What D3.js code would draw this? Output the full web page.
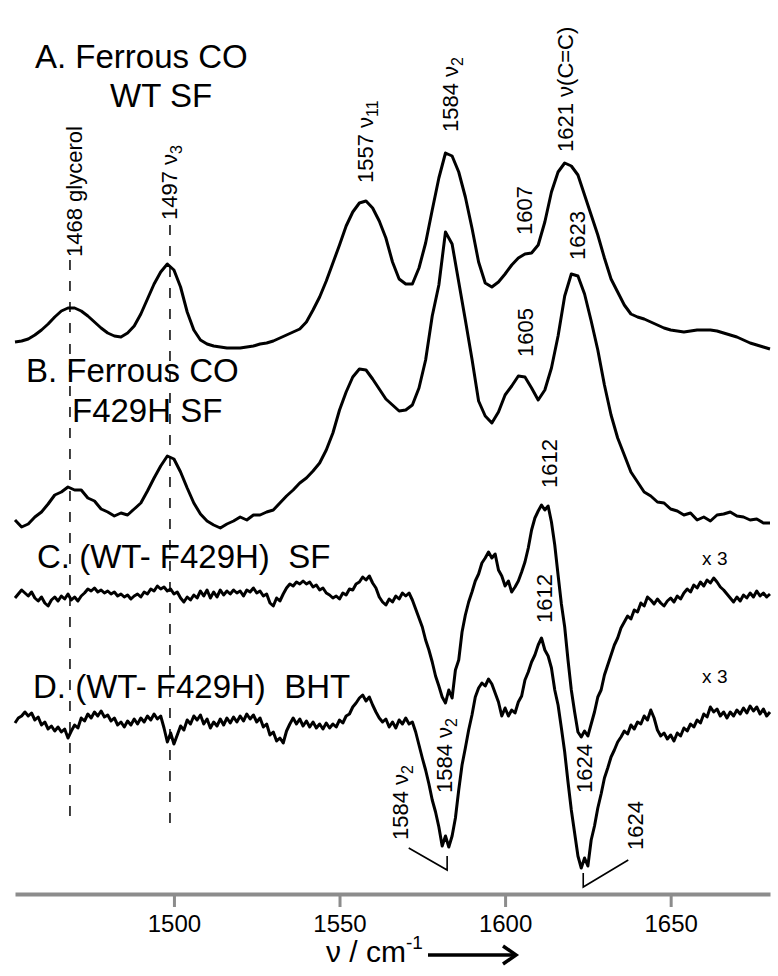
<!DOCTYPE html>
<html>
<head>
<meta charset="utf-8">
<script src="https://cdn.jsdelivr.net/npm/d3@7"></script>
<style>
  body { margin: 0; background: #fff; }
  svg { font-family: "Liberation Sans", Arial, sans-serif; }
  .title { font-size: 33px; fill: #000; white-space: pre; }
  .peak { font-size: 22px; fill: #000; }
</style>
</head>
<body>
<svg width="778" height="976"></svg>
<script>
// wavenumber grids (cm-1)
var waveCoarse = [
  1452,1454,1456,1458,1460,1462,1464,1466,1468,1470,
  1472,1474,1476,1478,1480,1482,1484,1486,1488,1490,
  1492,1494,1496,1498,1500,1502,1504,1506,1508,1510,
  1512,1514,1516,1518,1520,1522,1524,1526,1528,1530,
  1532,1534,1536,1538,1540,1542,1544,1546,1548,1550,
  1552,1554,1556,1558,1560,1562,1564,1566,1568,1570,
  1572,1574,1576,1578,1580,1582,1584,1586,1588,1590,
  1592,1594,1596,1598,1600,1602,1604,1606,1608,1610,
  1612,1614,1616,1618,1620,1622,1624,1626,1628,1630,
  1632,1634,1636,1638,1640,1642,1644,1646,1648,1650,
  1652,1654,1656,1658,1660,1662,1664,1666,1668,1670,
  1672,1674,1676,1678,1680];

var waveFine = [
  1452,1453,1454,1455,1456,1457,1458,1459,1460,1461,
  1462,1463,1464,1465,1466,1467,1468,1469,1470,1471,
  1472,1473,1474,1475,1476,1477,1478,1479,1480,1481,
  1482,1483,1484,1485,1486,1487,1488,1489,1490,1491,
  1492,1493,1494,1495,1496,1497,1498,1499,1500,1501,
  1502,1503,1504,1505,1506,1507,1508,1509,1510,1511,
  1512,1513,1514,1515,1516,1517,1518,1519,1520,1521,
  1522,1523,1524,1525,1526,1527,1528,1529,1530,1531,
  1532,1533,1534,1535,1536,1537,1538,1539,1540,1541,
  1542,1543,1544,1545,1546,1547,1548,1549,1550,1551,
  1552,1553,1554,1555,1556,1557,1558,1559,1560,1561,
  1562,1563,1564,1565,1566,1567,1568,1569,1570,1571,
  1572,1573,1574,1575,1576,1577,1578,1579,1580,1581,
  1582,1583,1584,1585,1586,1587,1588,1589,1590,1591,
  1592,1593,1594,1595,1596,1597,1598,1599,1600,1601,
  1602,1603,1604,1605,1606,1607,1608,1609,1610,1611,
  1612,1613,1614,1615,1616,1617,1618,1619,1620,1621,
  1622,1623,1624,1625,1626,1627,1628,1629,1630,1631,
  1632,1633,1634,1635,1636,1637,1638,1639,1640,1641,
  1642,1643,1644,1645,1646,1647,1648,1649,1650,1651,
  1652,1653,1654,1655,1656,1657,1658,1659,1660,1661,
  1662,1663,1664,1665,1666,1667,1668,1669,1670,1671,
  1672,1673,1674,1675,1676,1677,1678,1679,1680];

// intensities, arbitrary units with stacking offsets already included
// A. Ferrous CO WT SF (coarse grid)
var traceA = [
  558,559,561,565,570,576,583,589,592,592,
  589,584,578,572,567,564,563,567,574,586,
  601,616,628,636,630,613,588,570,560,556,
  554,553,552,552,552,553,554,556,557,559,
  562,565,568,571,578,590,603,619,637,655,
  674,688,697,699,692,679,662,638,621,616,
  616,632,657,690,722,747,744,728,703,672,
  638,617,613,618,626,635,642,646,647,655,
  678,708,728,737,734,725,705,685,665,642,
  621,608,595,586,583,581,578,575,572,570,
  569,568,569,570,570,570,569,567,565,563,
  560,557,555,553,551];

// B. Ferrous CO F429H SF (coarse grid)
var traceB = [
  380,373,376,383,388,396,405,408,413,410,
  410,402,399,391,388,384,387,385,391,397,
  409,422,434,444,441,428,412,397,386,379,
  375,372,376,379,383,380,385,385,388,390,
  397,404,410,417,422,429,437,450,467,490,
  508,523,531,530,521,511,501,495,489,490,
  495,512,540,584,615,668,656,618,580,541,
  499,484,477,488,505,514,524,523,512,500,
  510,532,564,604,626,624,606,579,550,515,
  485,462,445,428,418,408,404,398,397,391,
  389,385,387,380,383,379,385,386,388,384,
  383,380,381,377,377];

// C. (WT- F429H) SF, x3 (fine grid)
var traceC = [
  302,306,310,307,304,308,302,299,303,297,
  294,300,303,299,304,301,306,300,303,299,
  304,307,311,309,312,308,310,307,309,306,
  308,304,306,303,305,301,304,306,303,308,
  306,311,309,314,311,313,309,311,306,308,
  302,298,303,300,305,302,309,304,310,302,
  308,303,310,305,309,306,310,307,309,304,
  310,308,312,307,309,304,306,297,294,302,
  299,306,312,316,314,318,316,319,316,318,
  313,315,310,312,307,305,302,304,301,307,
  305,311,310,316,318,323,320,324,317,312,
  303,298,295,301,298,304,301,307,304,307,
  300,291,282,273,260,250,238,224,214,203,
  197,210,202,230,240,268,285,298,308,319,
  326,337,342,348,342,346,330,324,314,319,
  308,313,319,328,338,352,370,382,389,395,
  390,394,378,355,325,296,273,240,210,188,
  168,163,169,164,176,188,203,210,225,235,
  245,255,262,272,278,284,281,290,288,297,
  294,303,300,296,301,297,294,299,302,298,
  304,301,307,311,308,315,312,318,314,320,
  317,322,318,313,310,306,302,298,303,299,
  305,302,307,303,309,304,307,303,306];

// D. (WT- F429H) BHT, x3 (fine grid)
var traceD = [
  177,182,184,188,184,187,180,183,175,178,
  171,174,169,173,168,171,162,169,175,172,
  182,179,186,182,188,184,189,183,185,179,
  182,175,178,173,179,175,181,176,182,178,
  184,180,186,181,184,172,158,167,156,165,
  174,170,180,176,184,180,185,176,181,172,
  178,174,181,175,182,177,183,178,184,179,
  186,181,185,178,182,173,176,165,168,159,
  162,157,169,176,182,176,181,174,179,173,
  178,172,176,171,177,172,176,173,180,177,
  184,186,193,197,202,205,199,203,195,188,
  182,178,181,173,178,172,180,176,182,176,
  178,168,155,142,130,116,100,88,73,54,
  64,53,64,82,110,135,152,170,185,203,
  212,217,214,221,216,207,198,184,192,184,
  190,187,198,204,220,228,238,245,255,262,
  250,244,232,210,195,172,148,118,90,67,
  44,32,42,34,60,74,92,106,122,132,
  143,150,158,163,169,166,175,171,178,176,
  184,180,190,182,170,164,167,161,165,159,
  167,164,172,169,176,173,180,177,186,183,
  193,188,191,184,188,182,188,184,190,186,
  192,187,194,189,193,186,191,184,188];

var tickValues = [1500, 1550, 1600, 1650];

// dashed guide lines (glycerol and v3)
var guideWave = [1468.6, 1498.8];
var guideTop = [640, 675];
var guideBottom = 75;

// rotated peak labels: wavenumber, level, text, subscript
var peakLabels = [
  {w: 1472.2, i: 643, t: "1468 glycerol"},
  {w: 1500.9, i: 680, t: "1497 \u03bd", sub: "3"},
  {w: 1560.1, i: 717, t: "1557 \u03bd", sub: "11"},
  {w: 1585.8, i: 768, t: "1584 \u03bd", sub: "2"},
  {w: 1608.2, i: 665, t: "1607"},
  {w: 1620.5, i: 748, t: "1621 \u03bd(C=C)"},
  {w: 1624.2, i: 640, t: "1623"},
  {w: 1608.5, i: 543, t: "1605"},
  {w: 1615.7, i: 412, t: "1612"},
  {w: 1614.2, i: 277, t: "1612"},
  {w: 1584.0, i: 107, t: "1584 \u03bd", sub: "2"},
  {w: 1626.3, i: 107, t: "1624"},
  {w: 1570.7, i: 60, t: "1584 \u03bd", sub: "2"},
  {w: 1641.7, i: 50, t: "1624"}
];

var leaders = [
  [[1570.9, 52], [1582.5, 30], [1582.5, 44]],
  [[1637.2, 40], [1623.6, 13], [1623.6, 27]]
];

var scaleLabels = [
  {w: 1659.5, i: 335, t: "x 3"},
  {w: 1659.5, i: 217, t: "x 3"}
];

var titles = [
  {x: 35, y: 68, t: "A. Ferrous CO"},
  {x: 110, y: 107, t: "WT SF"},
  {x: 26, y: 382, t: "B. Ferrous CO"},
  {x: 72, y: 422, t: "F429H SF"},
  {x: 37, y: 568, t: "C. (WT- F429H)  SF"},
  {x: 33, y: 698, t: "D. (WT- F429H)  BHT"}
];

var svg = d3.select("svg");

var x = d3.scaleLinear().domain([1452, 1680]).range([15, 770]);
var y = d3.scaleLinear().domain([0, 900]).range([900, 0]);
var axisY = 894;

// dashed guides
svg.selectAll(".guide").data(guideWave).enter().append("line")
  .attr("class", "guide")
  .attr("x1", function(d) { return x(d); })
  .attr("x2", function(d) { return x(d); })
  .attr("y1", function(d, i) { return y(guideTop[i]); })
  .attr("y2", y(guideBottom))
  .attr("stroke", "#111")
  .attr("stroke-width", 1.6)
  .attr("stroke-dasharray", "10,11");

// spectra
var series = [
  {w: waveCoarse, v: traceA},
  {w: waveCoarse, v: traceB},
  {w: waveFine, v: traceC},
  {w: waveFine, v: traceD}
];
var line = d3.line()
  .x(function(d) { return x(d[0]); })
  .y(function(d) { return y(d[1]); });

svg.selectAll(".spec").data(series).enter().append("path")
  .attr("class", "spec")
  .attr("d", function(s) { return line(d3.zip(s.w, s.v)); })
  .attr("fill", "none")
  .attr("stroke", "#000")
  .attr("stroke-width", 3)
  .attr("stroke-linejoin", "round");

// leader lines
svg.selectAll(".leader").data(leaders).enter().append("path")
  .attr("class", "leader")
  .attr("d", line)
  .attr("fill", "none")
  .attr("stroke", "#000")
  .attr("stroke-width", 1.6);

// peak labels
var pl = svg.selectAll(".peak").data(peakLabels).enter().append("text")
  .attr("class", "peak")
  .attr("transform", function(d) { return "translate(" + x(d.w) + "," + y(d.i) + ") rotate(-90)"; });
pl.append("tspan").text(function(d) { return d.t; });
pl.filter(function(d) { return d.sub; }).append("tspan")
  .attr("font-size", 16)
  .attr("dy", 5)
  .text(function(d) { return d.sub; });

// x3 labels
svg.selectAll(".scl").data(scaleLabels).enter().append("text")
  .attr("class", "scl")
  .attr("x", function(d) { return x(d.w); })
  .attr("y", function(d) { return y(d.i); })
  .attr("font-size", 19)
  .text(function(d) { return d.t; });

// titles
svg.selectAll(".title").data(titles).enter().append("text")
  .attr("class", "title")
  .attr("x", function(d) { return d.x; })
  .attr("y", function(d) { return d.y; })
  .text(function(d) { return d.t; });

// x axis
var axis = svg.append("g")
  .attr("transform", "translate(0," + axisY + ")")
  .call(d3.axisBottom(x).tickValues(tickValues).tickFormat(d3.format("d"))
    .tickSize(13).tickSizeOuter(0).tickPadding(8));
axis.select(".domain").attr("stroke", "#8c8c8c").attr("stroke-width", 4);
axis.selectAll(".tick line").attr("stroke", "#8c8c8c").attr("stroke-width", 3);
axis.selectAll(".tick text")
  .attr("font-size", 24)
  .attr("font-family", "Liberation Sans, Arial, sans-serif")
  .attr("fill", "#000");

// axis title with arrow
var at = svg.append("text")
  .attr("x", 326)
  .attr("y", 962)
  .attr("font-size", 30)
  .attr("fill", "#000");
at.append("tspan").text("\u03bd / cm");
at.append("tspan").attr("font-size", 19).attr("dy", -13).text("-1");

svg.append("line")
  .attr("x1", 428).attr("x2", 514)
  .attr("y1", 955).attr("y2", 955)
  .attr("stroke", "#000").attr("stroke-width", 3.5);
svg.append("path")
  .attr("d", "M503,946 L516,955 L503,964")
  .attr("fill", "none")
  .attr("stroke", "#000").attr("stroke-width", 3.5);
</script>
</body>
</html>
